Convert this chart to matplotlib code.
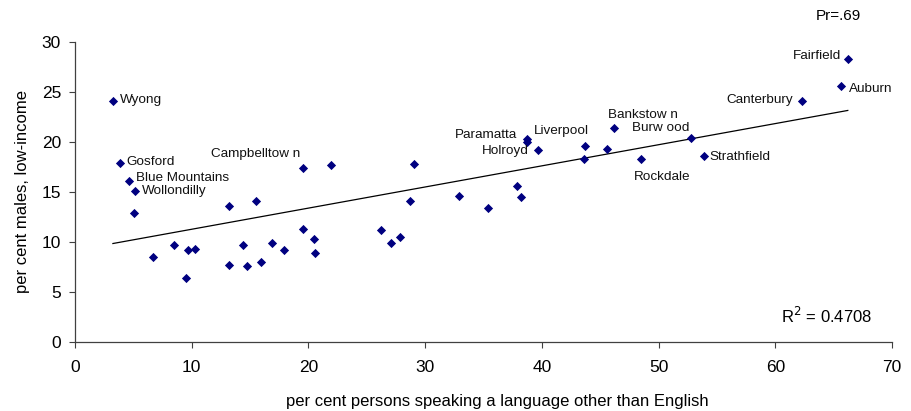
import numpy as np
import matplotlib
matplotlib.use('Agg')
import matplotlib.pyplot as plt

plt.rcParams['font.family'] = ['Liberation Sans', 'DejaVu Sans']

# per cent speaking a language other than English
lote = [3.25, 3.85, 4.62, 5.17, 5.05, 6.65, 8.45, 9.67, 10.25, 9.47,
        13.2, 13.2, 14.4, 14.7, 15.5, 15.9, 16.9, 17.9, 19.5, 19.5,
        21.9, 20.5, 20.6, 26.2, 27.05, 27.8, 28.7, 29.0, 32.9, 35.4,
        37.9, 38.2, 38.7, 38.7, 39.7, 43.7, 43.6, 45.6, 46.2, 48.5,
        52.8, 53.9, 62.3, 65.6, 66.2]
# per cent males, low income
low_income = [24.1, 17.9, 16.1, 15.1, 12.9, 8.5, 9.7, 9.2, 9.3, 6.4,
              13.6, 7.7, 9.7, 7.6, 14.1, 8.0, 9.9, 9.2, 11.3, 17.4,
              17.7, 10.3, 8.9, 11.2, 9.9, 10.5, 14.1, 17.8, 14.6, 13.4,
              15.6, 14.5, 20.3, 20.0, 19.2, 19.6, 18.3, 19.3, 21.4, 18.3,
              20.4, 18.6, 24.1, 25.6, 28.3]

# labelled areas: (name, index into the arrays, text offset in points, alignment)
labels = [
    ("Wyong", 0, (5, 1), 'left'),
    ("Gosford", 1, (5, 1), 'left'),
    ("Blue Mountains", 2, (5, 2), 'left'),
    ("Wollondilly", 3, (5, 0), 'left'),
    ("Campbelltow n", 19, (-2, 10), 'right'),
    ("Paramatta", 32, (-7, 3), 'right'),
    ("Liverpool", 33, (5, 8), 'left'),
    ("Holroyd", 34, (-7, -1), 'right'),
    ("Bankstow n", 38, (-4.5, 9.5), 'left'),
    ("Burw ood", 40, (-1.5, 7), 'right'),
    ("Rockdale", 39, (-5, -13), 'left'),
    ("Strathfield", 41, (4, -1), 'left'),
    ("Canterbury", 42, (-7, 1), 'right'),
    ("Auburn", 43, (6, -2), 'left'),
    ("Fairfield", 44, (-5, 2), 'right'),
]

fig = plt.figure(figsize=(9.11, 4.11), dpi=100)
ax = fig.add_axes([0.0823, 0.168, 0.897, 0.730])

ax.scatter(lote, low_income, marker='D', s=22, color='#000080', zorder=3, linewidths=0)

# linear trendline
slope, intercept = np.polyfit(lote, low_income, 1)
xs = np.array([min(lote), max(lote)])
ax.plot(xs, slope * xs + intercept, color='black', lw=0.9, zorder=2)

for name, i, off, ha in labels:
    ax.annotate(name, (lote[i], low_income[i]), xytext=off, textcoords='offset points',
                ha=ha, va='center', fontsize=9.7, color='#111111')

ax.set_xlim(0, 70)
ax.set_ylim(0, 30)
ax.set_xticks(range(0, 71, 10))
ax.set_yticks(range(0, 31, 5))
ax.tick_params(labelsize=12.5, length=4, width=0.8, color='#404040')
ax.tick_params(axis='x', pad=9)
ax.tick_params(axis='y', pad=6)
for side in ['top', 'right']:
    ax.spines[side].set_visible(False)
for side in ['left', 'bottom']:
    ax.spines[side].set_color('#404040')
    ax.spines[side].set_linewidth(0.9)

ax.set_xlabel('per cent persons speaking a language other than English', fontsize=12)
ax.xaxis.set_label_coords(0.5165, -0.175)
ax.set_ylabel('per cent males, low-income', fontsize=12, labelpad=8)

fig.text(0.907, 0.231, r'R$^2$ = 0.4708', fontsize=12, ha='center', va='center')
fig.text(0.920, 0.962, 'Pr=.69', fontsize=11, ha='center', va='center')

fig.savefig('out.png', dpi=100)
